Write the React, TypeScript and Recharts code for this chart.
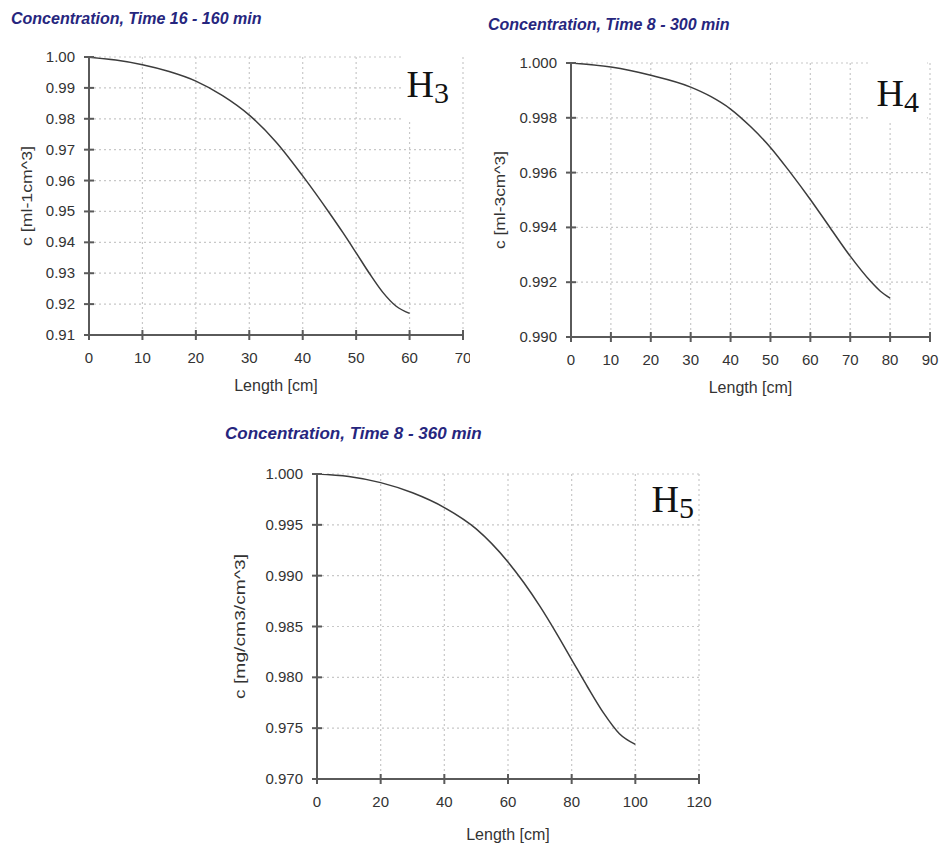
import React from 'react';
import { LineChart, Line, XAxis, YAxis, CartesianGrid, Label } from 'recharts';

// ---- H3 panel ----
const h3Length = [0, 5, 10, 15, 20, 25, 30, 35, 40, 45, 47.5, 50, 52.5, 55, 57.5, 60];
const h3Conc = [0.9999, 0.999, 0.9975, 0.9953, 0.9922, 0.9875, 0.9812, 0.9725, 0.9615, 0.9495, 0.9432, 0.9366, 0.9299, 0.9238, 0.9193, 0.917];
const h3XTicks = [0, 10, 20, 30, 40, 50, 60, 70];
const h3YTicks = [0.91, 0.92, 0.93, 0.94, 0.95, 0.96, 0.97, 0.98, 0.99, 1.0];

// ---- H4 panel ----
const h4Length = [0, 10, 20, 30, 35, 40, 45, 50, 55, 60, 65, 70, 75, 77.5, 80];
const h4Conc = [1.0, 0.99985, 0.99955, 0.99912, 0.99878, 0.99832, 0.99768, 0.99692, 0.996, 0.99502, 0.99398, 0.99295, 0.99205, 0.99168, 0.99142];
const h4XTicks = [0, 10, 20, 30, 40, 50, 60, 70, 80, 90];
const h4YTicks = [0.99, 0.992, 0.994, 0.996, 0.998, 1.0];

// ---- H5 panel ----
const h5Length = [0, 10, 20, 30, 40, 50, 60, 65, 70, 75, 80, 85, 90, 95, 100];
const h5Conc = [1.0, 0.99975, 0.99915, 0.99815, 0.9967, 0.9946, 0.99135, 0.9893, 0.987, 0.98445, 0.98175, 0.97905, 0.9765, 0.97445, 0.9734];
const h5XTicks = [0, 20, 40, 60, 80, 100, 120];
const h5YTicks = [0.97, 0.975, 0.98, 0.985, 0.99, 0.995, 1.0];

const titles = ['Concentration, Time 16 - 160 min', 'Concentration, Time 8 - 300 min', 'Concentration, Time 8 - 360 min'];
const yLabels = ['c [ml-1cm^3]', 'c [ml-3cm^3]', 'c [mg/cm3/cm^3]'];
const xLabel = 'Length [cm]';
const panelTags = ['3', '4', '5'];

const SANS = '"Liberation Sans", Arial, sans-serif';
const SERIF = '"Liberation Serif", "Times New Roman", serif';
const AXIS = '#5a5a5a';
const TEXT = '#333333';
const TITLE = '#26267e';

function YTick(props: any) {
  const { x, y, payload, decimals } = props;
  return (
    <g>
      <line x1={x - 5} x2={x + 5} y1={y} y2={y} stroke={AXIS} strokeWidth={2} />
      <text x={x - 14} y={y} dy={5} textAnchor="end" fontFamily={SANS} fontSize={15} fill={TEXT}>
        {Number(payload.value).toFixed(decimals)}
      </text>
    </g>
  );
}

function XTick(props: any) {
  const { x, y, payload } = props;
  return (
    <g>
      <line x1={x} x2={x} y1={y - 5} y2={y + 5} stroke={AXIS} strokeWidth={2} />
      <text x={x} y={y + 28} textAnchor="middle" fontFamily={SANS} fontSize={15} fill={TEXT}>
        {payload.value}
      </text>
    </g>
  );
}

function makeYLabel(text: string, cx: number, len: number) {
  return (p: any) => {
    const vb = p.viewBox || { x: 0, y: 0, width: 0, height: 0 };
    const x = vb.x + cx;
    const cy = vb.y + vb.height / 2;
    return (
      <text
        x={x}
        y={cy}
        dy={5}
        transform={`rotate(-90 ${x} ${cy})`}
        textAnchor="middle"
        fontFamily={SANS}
        fontSize={14}
        fill={TEXT}
        textLength={len}
        lengthAdjust="spacingAndGlyphs"
      >
        {text}
      </text>
    );
  };
}

function makeXLabel(text: string, dyBase: number) {
  return (p: any) => {
    const vb = p.viewBox || { x: 0, y: 0, width: 0, height: 0 };
    return (
      <text x={vb.x + vb.width / 2} y={vb.y + dyBase} textAnchor="middle" fontFamily={SANS} fontSize={16} fill={TEXT}>
        {text}
      </text>
    );
  };
}

type PanelProps = {
  left: number;
  top: number;
  width: number;
  height: number;
  margin: { top: number; right: number; bottom: number; left: number };
  yWidth: number;
  xHeight: number;
  lengths: number[];
  conc: number[];
  xTicks: number[];
  yTicks: number[];
  decimals: number;
  yLabel: string;
  yLabelX: number;
  yLabelLen: number;
  xLabelDy: number;
};

function Panel(p: PanelProps) {
  const data = p.lengths.map((x, i) => ({ x, c: p.conc[i] }));
  return (
    <div style={{ position: 'absolute', left: p.left, top: p.top, width: p.width, height: p.height }}>
      <LineChart width={p.width} height={p.height} data={data} margin={p.margin}>
        <CartesianGrid stroke="#c8c8c8" strokeDasharray="2 3" strokeWidth={1.2} />
        <XAxis
          type="number"
          dataKey="x"
          domain={[p.xTicks[0], p.xTicks[p.xTicks.length - 1]]}
          ticks={p.xTicks}
          interval={0}
          height={p.xHeight}
          tickSize={0}
          tickMargin={0}
          tickLine={false}
          tick={<XTick />}
          axisLine={{ stroke: AXIS, strokeWidth: 2 }}
          allowDataOverflow
        >
          <Label content={makeXLabel(xLabel, p.xLabelDy)} />
        </XAxis>
        <YAxis
          type="number"
          domain={[p.yTicks[0], p.yTicks[p.yTicks.length - 1]]}
          ticks={p.yTicks}
          interval={0}
          width={p.yWidth}
          tickSize={0}
          tickMargin={0}
          tickLine={false}
          tick={<YTick decimals={p.decimals} />}
          axisLine={{ stroke: AXIS, strokeWidth: 2 }}
          allowDataOverflow
        >
          <Label content={makeYLabel(p.yLabel, p.yLabelX, p.yLabelLen)} />
        </YAxis>
        <Line
          type="monotone"
          dataKey="c"
          stroke="#3c3c3c"
          strokeWidth={1.5}
          dot={false}
          activeDot={false}
          isAnimationActive={false}
        />
      </LineChart>
    </div>
  );
}

function Tag(props: { x: number; y: number; sub: string }) {
  return (
    <text x={props.x} y={props.y} fontFamily={SERIF} fontSize={38} fill="#111">
      H
      <tspan fontSize={30} dy={6}>
        {props.sub}
      </tspan>
    </text>
  );
}

export default function App() {
  return (
    <div style={{ position: 'absolute', left: 0, top: 0, width: 939, height: 844, background: '#ffffff', overflow: 'hidden' }}>
      <Panel
        left={0}
        top={0}
        width={470}
        height={400}
        margin={{ top: 57, right: 7, bottom: 5, left: 0 }}
        yWidth={89}
        xHeight={60}
        lengths={h3Length}
        conc={h3Conc}
        xTicks={h3XTicks}
        yTicks={h3YTicks}
        decimals={2}
        yLabel={yLabels[0]}
        yLabelX={27}
        yLabelLen={100}
        xLabelDy={56}
      />
      <Panel
        left={470}
        top={0}
        width={469}
        height={400}
        margin={{ top: 63, right: 9, bottom: 5, left: 0 }}
        yWidth={101}
        xHeight={58}
        lengths={h4Length}
        conc={h4Conc}
        xTicks={h4XTicks}
        yTicks={h4YTicks}
        decimals={3}
        yLabel={yLabels[1]}
        yLabelX={30}
        yLabelLen={98}
        xLabelDy={56}
      />
      <Panel
        left={200}
        top={410}
        width={530}
        height={434}
        margin={{ top: 64, right: 31, bottom: 5, left: 0 }}
        yWidth={117}
        xHeight={60}
        lengths={h5Length}
        conc={h5Conc}
        xTicks={h5XTicks}
        yTicks={h5YTicks}
        decimals={3}
        yLabel={yLabels[2]}
        yLabelX={40}
        yLabelLen={145}
        xLabelDy={61}
      />
      <svg width={939} height={844} style={{ position: 'absolute', left: 0, top: 0, pointerEvents: 'none' }}>
        <rect x={402} y={50} width={59} height={70} fill="#ffffff" />
        <rect x={868} y={55} width={59} height={67} fill="#ffffff" />
        <text x={11} y={24} fontFamily={SANS} fontSize={16} fontWeight="bold" fontStyle="italic" fill={TITLE}>
          {titles[0]}
        </text>
        <text x={488} y={30} fontFamily={SANS} fontSize={16} fontWeight="bold" fontStyle="italic" fill={TITLE}>
          {titles[1]}
        </text>
        <text x={225} y={439} fontFamily={SANS} fontSize={17} fontWeight="bold" fontStyle="italic" fill={TITLE}>
          {titles[2]}
        </text>
        <Tag x={406.5} y={97} sub={panelTags[0]} />
        <Tag x={876.5} y={106} sub={panelTags[1]} />
        <Tag x={651.5} y={512} sub={panelTags[2]} />
      </svg>
    </div>
  );
}
